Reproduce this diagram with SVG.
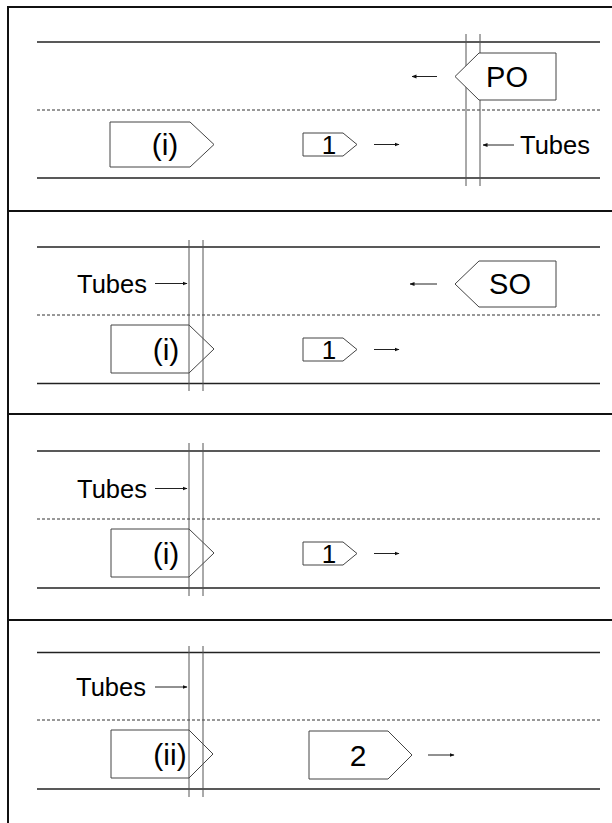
<svg xmlns="http://www.w3.org/2000/svg" width="612" height="823" viewBox="0 0 612 823">
<style>
.frame{stroke:#111;stroke-width:2;fill:none}
.road{stroke:#222;stroke-width:1.6}
.lane{stroke:#333;stroke-width:1;stroke-dasharray:3 2}
.tube{stroke:#555;stroke-width:1}
.veh{fill:#fff;stroke:#444;stroke-width:1}
.lbl{font-family:"Liberation Sans",Arial,sans-serif;fill:#000;text-anchor:middle}
.tubes{font-family:"Liberation Sans",Arial,sans-serif;font-size:25.5px;fill:#000}
.arr{stroke:#222;stroke-width:1;marker-end:url(#ah)}
</style>
<defs>
<marker id="ah" viewBox="0 0 10 10" refX="9" refY="5" markerWidth="5" markerHeight="5" markerUnits="userSpaceOnUse" orient="auto">
<path d="M0,1 L10,5 L0,9 z" fill="#111"/>
</marker>
</defs>
<rect width="612" height="823" fill="#fff"/>
<g id="frame">
<path class="frame" d="M8,7 H613 M8,6 V823 M8,211 H613 M8,414 H613 M8,620 H613"/>
</g>

<!-- Panel 1 -->
<g id="panel1">
<line class="road" x1="37" y1="42" x2="600" y2="42"/>
<line class="lane" x1="37" y1="110" x2="600" y2="110"/>
<line class="road" x1="37" y1="178" x2="600" y2="178"/>
<line class="tube" x1="466" y1="34" x2="466" y2="186"/>
<line class="tube" x1="480" y1="34" x2="480" y2="186"/>
<g id="p1-po"><path class="veh" d="M479,53 H556 V100 H479 L455,76.5 Z"/><text class="lbl" x="507" y="87" font-size="29">PO</text></g>
<g id="p1-i"><path class="veh" d="M110,122 H190 L214,144.5 L190,167 H110 Z"/><text class="lbl" x="165" y="155" font-size="30">(i)</text></g>
<g id="p1-1"><path class="veh" d="M303,133 H343 L357,144.5 L343,156 H303 Z"/><text class="lbl" x="329" y="154" font-size="26">1</text></g>
<text class="tubes" x="520" y="154">Tubes</text>
</g>
<g id="connectors">
<line class="arr" x1="437" y1="76.5" x2="412" y2="76.5"/>
<line class="arr" x1="374" y1="144.5" x2="399" y2="144.5"/>
<line class="arr" x1="514" y1="145" x2="483" y2="145"/>

<line class="arr" x1="437" y1="284" x2="410" y2="284"/>
<line class="arr" x1="374" y1="349.5" x2="399" y2="349.5"/>
<line class="arr" x1="155" y1="283.5" x2="187" y2="283.5"/>

<line class="arr" x1="374" y1="553.5" x2="399" y2="553.5"/>
<line class="arr" x1="155" y1="488.5" x2="187" y2="488.5"/>

<line class="arr" x1="428" y1="755" x2="454" y2="755"/>
<line class="arr" x1="155" y1="687" x2="187" y2="687"/>
</g>

<!-- Panel 2 -->
<g id="panel2">
<line class="road" x1="37" y1="247" x2="600" y2="247"/>
<line class="lane" x1="37" y1="315" x2="600" y2="315"/>
<line class="road" x1="37" y1="383.5" x2="600" y2="383.5"/>
<g id="p2-i"><path class="veh" d="M111,325 H189 L214,349 L189,373 H111 Z"/><text class="lbl" x="166" y="360" font-size="30">(i)</text></g>
<line class="tube" x1="189" y1="240" x2="189" y2="391"/>
<line class="tube" x1="203" y1="240" x2="203" y2="391"/>
<g id="p2-so"><path class="veh" d="M479,261 H556 V307 H479 L455,284 Z"/><text class="lbl" x="510" y="294" font-size="29">SO</text></g>
<g id="p2-1"><path class="veh" d="M303,338 H343 L357,349.5 L343,361 H303 Z"/><text class="lbl" x="329" y="359" font-size="26">1</text></g>
<text class="tubes" x="77" y="293">Tubes</text>
</g>

<!-- Panel 3 -->
<g id="panel3">
<line class="road" x1="37" y1="451" x2="600" y2="451"/>
<line class="lane" x1="37" y1="519" x2="600" y2="519"/>
<line class="road" x1="37" y1="588" x2="600" y2="588"/>
<g id="p3-i"><path class="veh" d="M111,529 H189 L214,553 L189,577 H111 Z"/><text class="lbl" x="166" y="564" font-size="30">(i)</text></g>
<line class="tube" x1="189" y1="443" x2="189" y2="596"/>
<line class="tube" x1="203" y1="443" x2="203" y2="596"/>
<g id="p3-1"><path class="veh" d="M303,542 H343 L357,553.5 L343,565 H303 Z"/><text class="lbl" x="329" y="563" font-size="26">1</text></g>
<text class="tubes" x="77" y="498">Tubes</text>
</g>

<!-- Panel 4 -->
<g id="panel4">
<line class="road" x1="37" y1="652.5" x2="600" y2="652.5"/>
<line class="lane" x1="37" y1="720" x2="600" y2="720"/>
<line class="road" x1="37" y1="789" x2="600" y2="789"/>
<g id="p4-ii"><path class="veh" d="M111,730 H189 L213,754 L189,778 H111 Z"/><text class="lbl" x="170" y="765" font-size="30">(ii)</text></g>
<line class="tube" x1="189" y1="646" x2="189" y2="797"/>
<line class="tube" x1="203" y1="646" x2="203" y2="797"/>
<g id="p4-2"><path class="veh" d="M309,731 H388 L412,755 L388,779 H309 Z"/><text class="lbl" x="358" y="766" font-size="30">2</text></g>
<text class="tubes" x="76" y="696">Tubes</text>
</g>
</svg>
